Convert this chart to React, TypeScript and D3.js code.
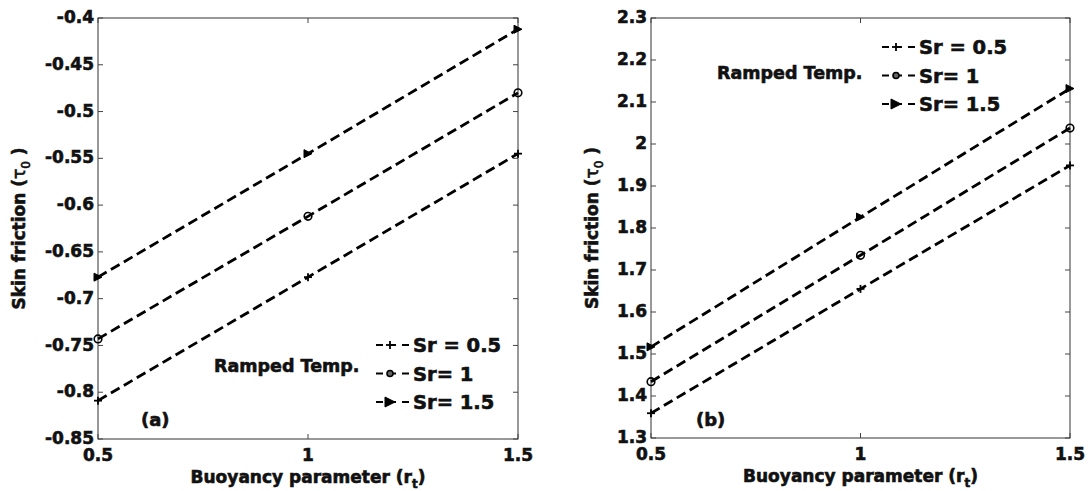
import React from "react";
import * as d3 from "d3";

// Buoyancy parameter values (x)
const rt = [0.5, 1, 1.5];

// Panel (a): skin friction for each Soret number
const aSr05 = [-0.809, -0.677, -0.545];
const aSr1 = [-0.743, -0.612, -0.48];
const aSr15 = [-0.677, -0.545, -0.412];

// Panel (b): skin friction for each Soret number
const bSr05 = [1.359, 1.655, 1.949];
const bSr1 = [1.434, 1.735, 2.038];
const bSr15 = [1.517, 1.826, 2.132];

const aYTicks = [-0.85, -0.8, -0.75, -0.7, -0.65, -0.6, -0.55, -0.5, -0.45, -0.4];
const bYTicks = [1.3, 1.4, 1.5, 1.6, 1.7, 1.8, 1.9, 2, 2.1, 2.2, 2.3];
const xTicks = [0.5, 1, 1.5];

const legendLabels = ["Sr = 0.5", "Sr= 1", "Sr= 1.5"];
const markerKinds = ["plus", "circle", "triangle"];

const FONT = "'DejaVu Sans', Verdana, sans-serif";
const INK = "#111";

function Marker({ kind, x, y, legend }: { kind: string; x: number; y: number; legend?: boolean }) {
  if (kind === "plus") {
    const s = 4;
    return (
      <g stroke="#000" strokeWidth={1.8}>
        <line x1={x - s} x2={x + s} y1={y} y2={y} />
        <line x1={x} x2={x} y1={y - s} y2={y + s} />
      </g>
    );
  }
  if (kind === "circle") {
    return <circle cx={x} cy={y} r={legend ? 3 : 3.8} fill={legend ? "#666" : "none"} stroke="#000" strokeWidth={1.6} />;
  }
  const s = legend ? 5 : 4;
  return (
    <path
      d={`M${x + s},${y} L${x - s},${y - s} L${x - s},${y + s} Z`}
      fill="#000"
      stroke="#000"
      strokeWidth={1}
    />
  );
}

type PanelProps = {
  left: number;
  top: number;
  width: number;
  height: number;
  yDomain: [number, number];
  yTicks: number[];
  series: number[][];
  tag: string;
  tagPos: [number, number];
  rampPos: [number, number];
  legendPos: [number, number];
  yLabelX: number;
};

function Panel(p: PanelProps) {
  const x = d3.scaleLinear().domain([0.5, 1.5]).range([p.left, p.left + p.width]);
  const y = d3.scaleLinear().domain(p.yDomain).range([p.top + p.height, p.top]);
  const line = d3
    .line<number>()
    .x((_, i) => x(rt[i]))
    .y((d) => y(d));
  const tl = 5;
  const bottom = p.top + p.height;
  const right = p.left + p.width;
  const fmt = (v: number) => String(+v.toFixed(2));
  return (
    <g fontFamily={FONT} fontWeight="bold" fill={INK} stroke={INK} strokeWidth={0.6}>
      <rect x={p.left} y={p.top} width={p.width} height={p.height} fill="#fff" stroke="#333" strokeWidth={1} />
      {p.yTicks.map((t) => (
        <g key={"y" + t} stroke="#444" strokeWidth={1}>
          <line x1={p.left} x2={p.left + tl} y1={y(t)} y2={y(t)} />
          <line x1={right} x2={right - tl} y1={y(t)} y2={y(t)} />
        </g>
      ))}
      {xTicks.map((t) => (
        <g key={"x" + t} stroke="#444" strokeWidth={1}>
          <line x1={x(t)} x2={x(t)} y1={bottom} y2={bottom - tl} />
          <line x1={x(t)} x2={x(t)} y1={p.top} y2={p.top + tl} />
        </g>
      ))}
      {p.yTicks.map((t) => (
        <text key={"yl" + t} x={p.left - 4} y={y(t)} dy="0.3em" textAnchor="end" fontSize={17}>
          {fmt(t)}
        </text>
      ))}
      {xTicks.map((t) => (
        <text key={"xl" + t} x={x(t)} y={bottom + 22} textAnchor="middle" fontSize={17}>
          {String(t)}
        </text>
      ))}
      <text x={x(1)} y={bottom + 44} textAnchor="middle" fontSize={17}>
        Buoyancy parameter (r
        <tspan dy={5} fontSize={12}>t</tspan>
        <tspan dy={-5}>)</tspan>
      </text>
      <text
        transform={`translate(${p.yLabelX},${p.top + p.height / 2}) rotate(-90)`}
        textAnchor="middle"
        fontSize={17}
      >
        Skin friction (
        <tspan fontWeight="normal">τ</tspan>
        <tspan dy={5} fontSize={12} fontWeight="normal">0</tspan>
        <tspan dy={-5}> )</tspan>
      </text>
      <g stroke="none">
        {p.series.map((s, i) => (
          <g key={"s" + i}>
            <path d={line(s) || ""} fill="none" stroke="#000" strokeWidth={2.8} strokeDasharray="10,5" />
            {s.map((v, j) => (
              <Marker key={j} kind={markerKinds[i]} x={x(rt[j])} y={y(v)} />
            ))}
          </g>
        ))}
      </g>
      <text x={p.rampPos[0]} y={p.rampPos[1]} fontSize={17.5}>
        Ramped Temp.
      </text>
      {legendLabels.map((lab, i) => {
        const lx = p.legendPos[0];
        const ly = p.legendPos[1] + i * 28.5;
        return (
          <g key={"lg" + i}>
            <line x1={lx} x2={lx + 34} y1={ly} y2={ly} stroke="#000" strokeWidth={2.2} strokeDasharray="7,6" />
            <Marker kind={markerKinds[i]} x={lx + 14} y={ly} legend />
            <text x={lx + 37} y={ly} dy="0.36em" fontSize={19.5}>
              {lab}
            </text>
          </g>
        );
      })}
      <text x={p.tagPos[0]} y={p.tagPos[1]} fontSize={18}>
        {p.tag}
      </text>
    </g>
  );
}

export default function App() {
  return (
    <svg width={1088} height={491} style={{ display: "block", position: "absolute", left: 0, top: 0 }}>
      <rect width={1088} height={491} fill="#fff" />
      <Panel
        left={98}
        top={18}
        width={420}
        height={421}
        yDomain={[-0.85, -0.4]}
        yTicks={aYTicks}
        series={[aSr05, aSr1, aSr15]}
        tag="(a)"
        tagPos={[141, 426]}
        rampPos={[214, 372]}
        legendPos={[376, 345]}
        yLabelX={25}
      />
      <Panel
        left={651}
        top={18}
        width={419}
        height={420}
        yDomain={[1.3, 2.3]}
        yTicks={bYTicks}
        series={[bSr05, bSr1, bSr15]}
        tag="(b)"
        tagPos={[696, 426]}
        rampPos={[717, 79]}
        legendPos={[882, 47]}
        yLabelX={598}
      />
    </svg>
  );
}
